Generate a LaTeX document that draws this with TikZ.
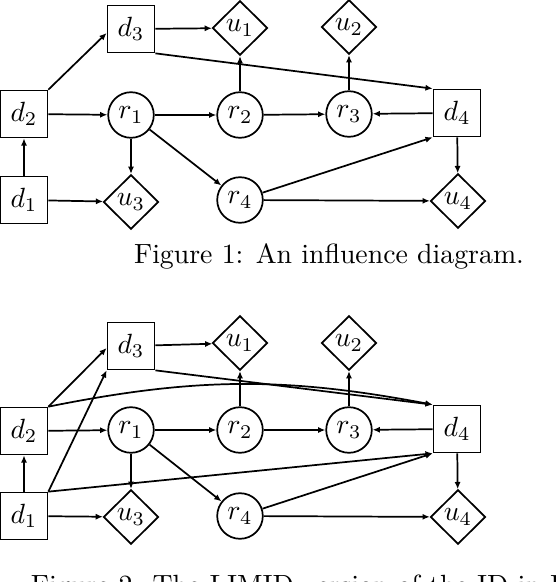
\documentclass[tikz,border=0pt]{standalone}
\usetikzlibrary{shapes.geometric,arrows.meta,calc}
\begin{document}
\begin{tikzpicture}[x=0.3597pt,y=-0.3597pt,
  line width=0.62pt,
  dnode/.style={draw,rectangle,minimum width=16.9pt,minimum height=16.9pt,inner sep=0pt},
  rnode/.style={draw,circle,minimum size=16.4pt,inner sep=0pt},
  unode/.style={draw,diamond,minimum width=19.8pt,minimum height=19.6pt,inner sep=0pt},
  arr/.style={-{Latex[length=2.6pt,width=2.2pt]}},
  captiontext/.style={font=\fontsize{10}{12}\selectfont,inner sep=0pt}]
\useasboundingbox (0,0) rectangle (556,582);
\clip (0,0) rectangle (556,582);
% ---------- Figure 1 ----------
\node[dnode] (d3) at (131,29) {$d_3$};
\node[unode] (u1) at (240,28) {$u_1$};
\node[unode] (u2) at (349,27) {$u_2$};
\node[dnode] (d2) at (24,114) {$d_2$};
\node[rnode] (r1) at (131,115) {$r_1$};
\node[rnode] (r2) at (240,115) {$r_2$};
\node[rnode] (r3) at (349,114) {$r_3$};
\node[dnode] (d4) at (457,113) {$d_4$};
\node[dnode] (d1) at (24,200) {$d_1$};
\node[unode] (u3) at (131,202) {$u_3$};
\node[rnode] (r4) at (240,200) {$r_4$};
\node[unode] (u4) at (458,201) {$u_4$};
\draw[arr] (d2.north east) -- ($(d3.west)+(0,4)$);
\draw[arr] (d3) -- (u1);
\draw[arr] (d3.south east) -- (d4.north west);
\draw[arr] (r2) -- (u1);
\draw[arr] (r3) -- (u2);
\draw[arr] (d2) -- (r1);
\draw[arr] (r1) -- (r2);
\draw[arr] (r2) -- (r3);
\draw[arr] (d4) -- (r3);
\draw[arr] (r1) -- (u3);
\draw[arr] (r1) -- (r4);
\draw[arr] (d1) -- (d2);
\draw[arr] (d1) -- (u3);
\draw[arr] (r4) -- (d4.south west);
\draw[arr] (r4) -- (u4);
\draw[arr] (d4) -- (u4);
\node[captiontext,anchor=base] (c1) at (329,263) {Figure 1: An influence diagram.};
% ---------- Figure 2 ----------
\node[dnode] (e3) at (131,346) {$d_3$};
\node[unode] (v1) at (240,343) {$u_1$};
\node[unode] (v2) at (349,343) {$u_2$};
\node[dnode] (e2) at (24,431) {$d_2$};
\node[rnode] (s1) at (131,430) {$r_1$};
\node[rnode] (s2) at (240,430) {$r_2$};
\node[rnode] (s3) at (349,430) {$r_3$};
\node[dnode] (e4) at (457,429) {$d_4$};
\node[dnode] (e1) at (24,516) {$d_1$};
\node[unode] (v3) at (131,517) {$u_3$};
\node[rnode] (s4) at (240,516) {$r_4$};
\node[unode] (v4) at (458,517) {$u_4$};
\draw[arr] (e2.north east) -- ($(e3.west)+(0,2)$);
\draw[arr] (e1.north east) -- (e3.south west);
\draw[arr] (e2.north east) to[bend left=11] (e4.north west);
\draw[arr] (e1.north east) -- (e4.south west);
\draw[arr] (e3) -- (v1);
\draw[arr] (e3.south east) -- (e4.north west);
\draw[arr] (s2) -- (v1);
\draw[arr] (s3) -- (v2);
\draw[arr] (e2) -- (s1);
\draw[arr] (s1) -- (s2);
\draw[arr] (s2) -- (s3);
\draw[arr] (e4) -- (s3);
\draw[arr] (s1) -- (v3);
\draw[arr] (s1) -- (s4);
\draw[arr] (e1) -- (e2);
\draw[arr] (e1) -- (v3);
\draw[arr] (s4) -- (e4.south west);
\draw[arr] (s4) -- (v4);
\draw[arr] (e4) -- (v4);
\node[captiontext,anchor=base west] (c2) at (30,594) {Figure 2: The LIMID version of the ID in Figure 1.};
\end{tikzpicture}
\end{document}
